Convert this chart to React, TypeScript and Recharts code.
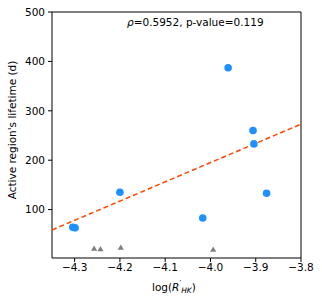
import React from 'react';
import {
  ComposedChart,
  Scatter,
  XAxis,
  YAxis,
  ReferenceLine,
} from 'recharts';

// measured objects (log R'HK vs lifetime in days)
const activeX = [-4.304, -4.299, -4.2, -4.017, -3.961, -3.906, -3.904, -3.876];
const activeY = [64, 63, 135, 83, 387, 260, 233, 133];

// upper limits / unresolved
const limitX = [-4.257, -4.243, -4.198, -3.994];
const limitY = [21, 20, 23, 19];

// linear fit endpoints
const fitX = [-4.35, -3.8];
const fitY = [58.8, 273];

const xTicks = [-4.3, -4.2, -4.1, -4.0, -3.9, -3.8];
const yTicks = [100, 200, 300, 400, 500];

const activeData = activeX.map((x, i) => ({ x, y: activeY[i] }));
const limitData = limitX.map((x, i) => ({ x, y: limitY[i] }));
const fitData = fitX.map((x, i) => ({ x, y: fitY[i] }));

const FONT = '"DejaVu Sans", sans-serif';

const Dot = (props: any) => (
  <circle cx={props.cx} cy={props.cy} r={3.8} fill="#1e90ff" />
);

const Tri = (props: any) => {
  const { cx, cy } = props;
  const h = 5.2;
  const w = 3.1;
  return (
    <path
      d={`M${cx},${cy - h * 0.6} L${cx + w},${cy + h * 0.4} L${cx - w},${cy + h * 0.4} Z`}
      fill="#808080"
    />
  );
};

const fmtTick = (v: number) => v.toFixed(1).replace('-', '\u2212');

export default function App() {
  return (
    <div style={{ position: 'absolute', left: 0, top: 0, background: '#fff' }}>
      <ComposedChart
        width={322}
        height={302}
        margin={{ top: 12, right: 21, left: 0, bottom: 0 }}
      >
        <XAxis
          type="number"
          dataKey="x"
          domain={[-4.35, -3.8]}
          ticks={xTicks}
          tickFormatter={fmtTick}
          allowDataOverflow
          height={44}
          stroke="#000"
          tickSize={4}
          tickMargin={2}
          tick={{ fill: '#000', fontSize: 10.5, fontFamily: FONT }}
        />
        <YAxis
          type="number"
          dataKey="y"
          domain={[2, 500]}
          ticks={yTicks}
          allowDataOverflow
          width={52}
          stroke="#000"
          tickSize={4}
          tickMargin={3}
          tick={{ fill: '#000', fontSize: 10.5, fontFamily: FONT }}
        />
        <ReferenceLine y={500} stroke="#000" />
        <ReferenceLine x={-3.8} stroke="#000" />
        <Scatter
          data={fitData}
          line={{ stroke: '#ff4500', strokeWidth: 1.5, strokeDasharray: '5 3' }}
          shape={() => null}
          isAnimationActive={false}
        />
        <Scatter data={activeData} shape={Dot} isAnimationActive={false} />
        <Scatter data={limitData} shape={Tri} isAnimationActive={false} />
        <text x={127} y={26} fontFamily={FONT} fontSize={10.5} fill="#000">
          <tspan fontStyle="italic">ρ</tspan>=0.5952, p-value=0.119
        </text>
        <text
          x={16}
          y={130}
          transform="rotate(-90 16 130)"
          textAnchor="middle"
          fontFamily={FONT}
          fontSize={10.5}
          fill="#000"
        >
          Active region's lifetime (d)
        </text>
        <text x={152} y={291} fontFamily={FONT} fontSize={10.5} fill="#000">
          log(
          <tspan fontStyle="italic">R</tspan>
          <tspan dy={-4} fontSize={8}>{'\u2032'}</tspan>
          <tspan dy={6} fontSize={7.5} fontStyle="italic">HK</tspan>
          <tspan dy={-2}>)</tspan>
        </text>
      </ComposedChart>
    </div>
  );
}
